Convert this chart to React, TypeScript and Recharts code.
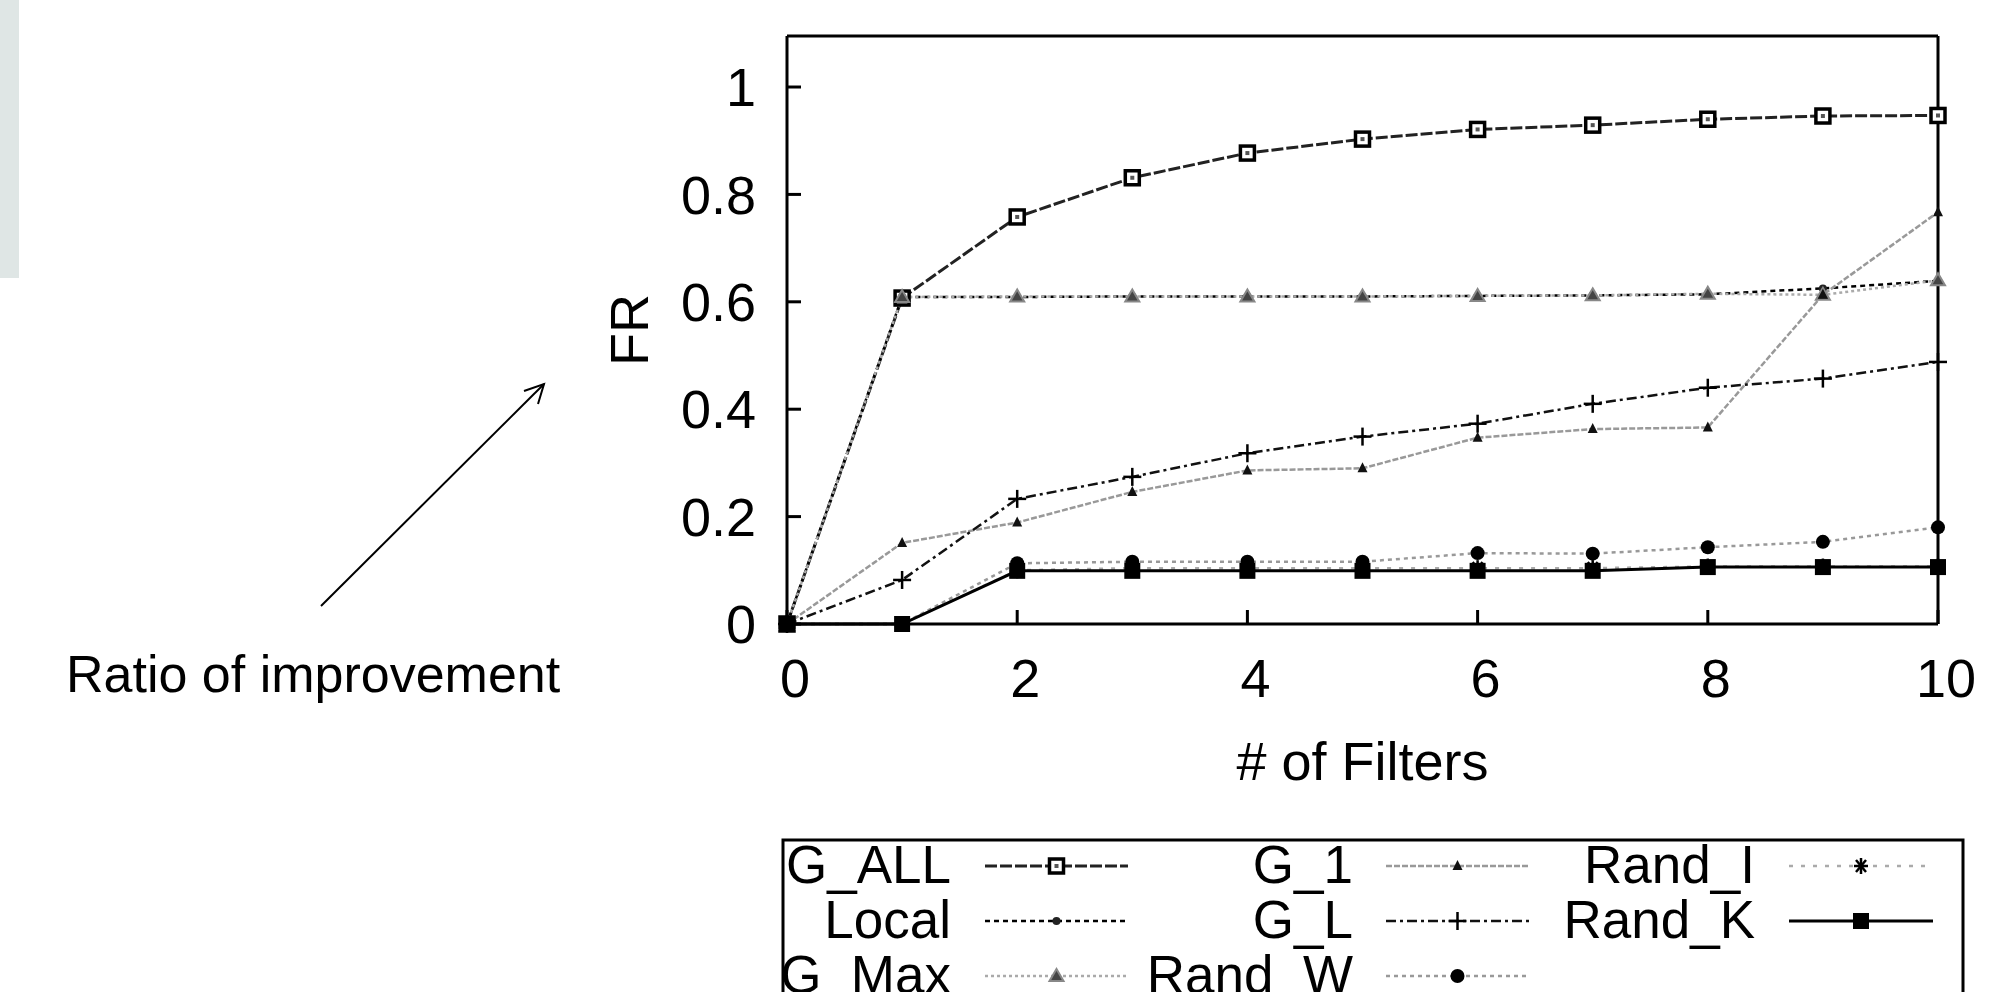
import { LineChart, Line, XAxis, YAxis } from 'recharts';

const filters = [0, 1, 2, 3, 4, 5, 6, 7, 8, 9, 10];
const gAll = [0, 0.607, 0.758, 0.831, 0.877, 0.903, 0.921, 0.929, 0.94, 0.946, 0.947];
const local = [0, 0.609, 0.609, 0.61, 0.61, 0.61, 0.611, 0.612, 0.614, 0.625, 0.639];
const gMax = [0, 0.609, 0.61, 0.61, 0.61, 0.61, 0.611, 0.612, 0.615, 0.613, 0.64];
const g1 = [0, 0.151, 0.189, 0.246, 0.286, 0.29, 0.347, 0.363, 0.366, 0.613, 0.767];
const gL = [0, 0.082, 0.233, 0.274, 0.318, 0.349, 0.373, 0.41, 0.44, 0.457, 0.488];
const randW = [0, 0, 0.113, 0.116, 0.116, 0.116, 0.132, 0.131, 0.143, 0.153, 0.18];
const randI = [0, 0, 0.1, 0.104, 0.104, 0.104, 0.104, 0.104, 0.107, 0.107, 0.107];
const randK = [0, 0, 0.099, 0.099, 0.099, 0.099, 0.099, 0.099, 0.106, 0.106, 0.106];

const xTicks = [0, 2, 4, 6, 8, 10];
const yTicks = [0, 0.2, 0.4, 0.6, 0.8, 1];

const FONT = '"Liberation Sans", Arial, sans-serif';

type MarkerKind = 'openSquare' | 'dot' | 'openTriangle' | 'triangle' | 'plus' | 'circle' | 'star' | 'square';

const series: { key: string; name: string; values: number[]; stroke: string; dash?: string; width: number; marker: MarkerKind }[] = [
  { key: 'gAll', name: 'G_ALL', values: gAll, stroke: '#222', dash: '12 3', width: 3, marker: 'openSquare' },
  { key: 'local', name: 'Local', values: local, stroke: '#000', dash: '5 4', width: 2.5, marker: 'dot' },
  { key: 'gMax', name: 'G_Max', values: gMax, stroke: '#aaa', dash: '3 3', width: 2.5, marker: 'openTriangle' },
  { key: 'g1', name: 'G_1', values: g1, stroke: '#999', dash: '6 2', width: 2.5, marker: 'triangle' },
  { key: 'gL', name: 'G_L', values: gL, stroke: '#111', dash: '10 4 3 4', width: 2.5, marker: 'plus' },
  { key: 'randW', name: 'Rand_W', values: randW, stroke: '#999', dash: '4 4', width: 2.5, marker: 'circle' },
  { key: 'randI', name: 'Rand_I', values: randI, stroke: '#aaa', dash: '4 8', width: 2.5, marker: 'star' },
  { key: 'randK', name: 'Rand_K', values: randK, stroke: '#000', width: 3, marker: 'square' },
];

const data = filters.map((x, i) => {
  const row: Record<string, number> = { x };
  series.forEach((s) => (row[s.key] = s.values[i]));
  return row;
});

function Marker({ kind, cx, cy }: { kind: MarkerKind; cx: number; cy: number }) {
  switch (kind) {
    case 'openSquare':
      return (
        <g>
          <rect x={cx - 7} y={cy - 7} width={14} height={14} fill="#fff" stroke="#000" strokeWidth={3.5} />
          <rect x={cx - 2} y={cy - 2} width={4} height={4} fill="#555" />
        </g>
      );
    case 'dot':
      return <circle cx={cx} cy={cy} r={4} fill="#222" />;
    case 'openTriangle':
      return <path d={`M${cx},${cy - 7} L${cx + 7},${cy + 5} L${cx - 7},${cy + 5} Z`} fill="#444" stroke="#888" strokeWidth={2} />;
    case 'triangle':
      return <path d={`M${cx},${cy - 6} L${cx + 5},${cy + 4} L${cx - 5},${cy + 4} Z`} fill="#111" />;
    case 'plus':
      return (
        <g stroke="#000" strokeWidth={2.5}>
          <line x1={cx - 9} y1={cy} x2={cx + 9} y2={cy} />
          <line x1={cx} y1={cy - 9} x2={cx} y2={cy + 9} />
        </g>
      );
    case 'circle':
      return <circle cx={cx} cy={cy} r={7} fill="#000" />;
    case 'star':
      return (
        <g stroke="#000" strokeWidth={2.5}>
          <line x1={cx - 7} y1={cy} x2={cx + 7} y2={cy} />
          <line x1={cx} y1={cy - 8} x2={cx} y2={cy + 8} />
          <line x1={cx - 5} y1={cy - 6} x2={cx + 5} y2={cy + 6} />
          <line x1={cx - 5} y1={cy + 6} x2={cx + 5} y2={cy - 6} />
        </g>
      );
    case 'square':
      return <rect x={cx - 8} y={cy - 8} width={16} height={16} fill="#000" />;
  }
}

// legend layout, gnuplot style: 3 rows, filled column by column
const legendCols = [
  { labelRight: 951, from: 985, to: 1128 },
  { labelRight: 1353, from: 1386, to: 1529 },
  { labelRight: 1755, from: 1789, to: 1933 },
];
const legendBaselines = [883, 938, 993];

const frameAxis = { stroke: '#000', strokeWidth: 3 };

export default function App() {
  return (
    <div style={{ position: 'absolute', left: 0, top: 0, width: 2006, height: 992, overflow: 'hidden', background: '#fff' }}>
      <LineChart width={2006} height={992} data={data} margin={{ top: 35, right: 67, left: 471, bottom: 95 }}>
        <XAxis
          dataKey="x"
          type="number"
          domain={[0, 10]}
          ticks={xTicks}
          height={273}
          tickSize={-14}
          tickMargin={49}
          axisLine={frameAxis}
          tickLine={frameAxis}
          tick={{ fill: '#000', fontSize: 54, fontFamily: FONT, dx: 8 }}
          label={{ value: '# of Filters', position: 'center', fontSize: 54, fill: '#000', fontFamily: FONT }}
        />
        <XAxis
          xAxisId="top"
          dataKey="x"
          orientation="top"
          type="number"
          domain={[0, 10]}
          ticks={xTicks}
          height={1}
          tickSize={-14}
          tick={false}
          axisLine={frameAxis}
          tickLine={frameAxis}
        />
        <YAxis
          type="number"
          domain={[0, 1.095]}
          ticks={yTicks}
          width={316}
          tickSize={-14}
          tickMargin={45}
          axisLine={frameAxis}
          tickLine={frameAxis}
          tick={{ fill: '#000', fontSize: 54, fontFamily: FONT }}
          label={{ value: 'FR', angle: -90, position: 'center', fontSize: 54, fill: '#000', fontFamily: FONT }}
        />
        <YAxis
          yAxisId="right"
          orientation="right"
          type="number"
          domain={[0, 1.095]}
          ticks={yTicks}
          width={1}
          tickSize={-14}
          tick={false}
          axisLine={frameAxis}
          tickLine={frameAxis}
        />
        {/* invisible copy so the mirrored top/right axes have a series bound to them */}
        <Line
          xAxisId="top"
          yAxisId="right"
          dataKey="gAll"
          stroke="none"
          dot={false}
          activeDot={false}
          legendType="none"
          isAnimationActive={false}
        />
        {series.map((s) => (
          <Line
            key={s.key}
            dataKey={s.key}
            type="linear"
            stroke={s.stroke}
            strokeWidth={s.width}
            strokeDasharray={s.dash}
            isAnimationActive={false}
            dot={(p: any) => (
              <g key={`${s.key}-${p.index}`}>
                <Marker kind={s.marker} cx={p.cx} cy={p.cy} />
              </g>
            )}
            activeDot={false}
          />
        ))}
      </LineChart>

      <svg width={2006} height={992} style={{ position: 'absolute', left: 0, top: 0, pointerEvents: 'none' }}>
        <rect x={0} y={0} width={19} height={278} fill="#dfe6e5" />
        {/* annotation arrow */}
        <line x1={321} y1={606} x2={544} y2={384} stroke="#000" strokeWidth={2} />
        <polyline points="524,391 544,384 538,404" fill="none" stroke="#000" strokeWidth={2} />
        <text x={66} y={692} fontSize={52} fontFamily={FONT} fill="#000">
          Ratio of improvement
        </text>

        {/* key box */}
        <path d="M783,992 V840 H1963 V992" fill="none" stroke="#000" strokeWidth={3} />
        {series.map((s, i) => {
          const col = legendCols[Math.floor(i / 3)];
          const base = legendBaselines[i % 3];
          const ly = base - 17;
          const mid = (col.from + col.to) / 2;
          return (
            <g key={s.key}>
              <text x={col.labelRight} y={base} textAnchor="end" fontSize={53} fontFamily={FONT} fill="#000">
                {s.name}
              </text>
              <line x1={col.from} y1={ly} x2={col.to} y2={ly} stroke={s.stroke} strokeWidth={s.width} strokeDasharray={s.dash} />
              <Marker kind={s.marker} cx={mid} cy={ly} />
            </g>
          );
        })}
      </svg>
    </div>
  );
}
